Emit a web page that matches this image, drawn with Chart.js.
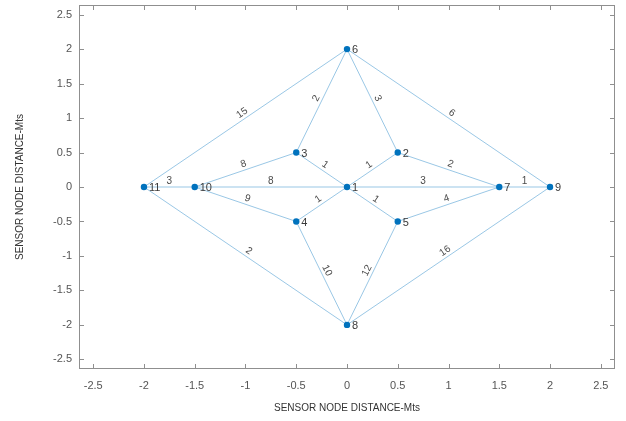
<!DOCTYPE html>
<html>
<head>
<meta charset="utf-8">
<script src="https://cdn.jsdelivr.net/npm/chart.js@4/dist/chart.umd.min.js"></script>
<style>
  html, body { margin: 0; padding: 0; background: #fff; }
  #wrap { width: 626px; height: 421px; }
</style>
</head>
<body>
<div id="wrap"><canvas id="graph" width="626" height="421"></canvas></div>
<script>
  "use strict";

  // node positions (metres) and their names
  const nodeNames = ["1", "2", "3", "4", "5", "6", "7", "8", "9", "10", "11"];
  const nodeX = [0, 0.5, -0.5, -0.5, 0.5, 0, 1.5, 0, 2, -1.5, -2];
  const nodeY = [0, 0.5, 0.5, -0.5, -0.5, 2, 0, -2, 0, 0, 0];

  // edges as 1-based node numbers, with their weights
  const edgeFrom = [11, 11, 11, 10, 10, 10, 3, 4, 3, 2, 6, 1, 1, 1, 2, 5, 7, 9, 5, 4];
  const edgeTo = [10, 6, 8, 3, 1, 4, 1, 1, 6, 6, 9, 2, 5, 7, 7, 7, 9, 8, 8, 8];
  const edgeWeights = [3, 15, 2, 8, 8, 9, 1, 1, 2, 3, 6, 1, 1, 3, 2, 4, 1, 16, 12, 10];

  const xTicks = [-2.5, -2, -1.5, -1, -0.5, 0, 0.5, 1, 1.5, 2, 2.5];
  const yTicks = [-2.5, -2, -1.5, -1, -0.5, 0, 0.5, 1, 1.5, 2, 2.5];
  const axisLimit = 2.64;

  const fontFamily = "'Liberation Sans', Arial, Helvetica, sans-serif";
  const nodeColor = "#0072BD";
  const edgeColor = "rgba(0, 114, 189, 0.4)";
  const boxColor = "#8f8f8f";

  function point(i) {
    return { x: nodeX[i - 1], y: nodeY[i - 1] };
  }

  const edgeSets = edgeFrom.map((from, k) => ({
    data: [point(from), point(edgeTo[k])],
    showLine: true,
    borderColor: edgeColor,
    borderWidth: 1,
    pointRadius: 0,
    order: 1
  }));

  const nodeSet = {
    data: nodeX.map((x, i) => ({ x: x, y: nodeY[i] })),
    backgroundColor: nodeColor,
    borderColor: nodeColor,
    borderWidth: 0,
    pointRadius: 3.2,
    order: 0
  };

  // matlab-like box with inward ticks on all sides
  const boxPlugin = {
    id: "box",
    afterDraw(chart) {
      const { ctx, chartArea: a, scales } = chart;
      ctx.save();
      ctx.strokeStyle = boxColor;
      ctx.lineWidth = 1;
      ctx.strokeRect(a.left + 0.5, a.top + 0.5, a.right - a.left - 1, a.bottom - a.top - 1);
      ctx.beginPath();
      xTicks.forEach((v) => {
        const px = Math.round(scales.x.getPixelForValue(v)) + 0.5;
        ctx.moveTo(px, a.bottom); ctx.lineTo(px, a.bottom - 5);
        ctx.moveTo(px, a.top); ctx.lineTo(px, a.top + 5);
      });
      yTicks.forEach((v) => {
        const py = Math.round(scales.y.getPixelForValue(v)) + 0.5;
        ctx.moveTo(a.left, py); ctx.lineTo(a.left + 5, py);
        ctx.moveTo(a.right, py); ctx.lineTo(a.right - 5, py);
      });
      ctx.stroke();
      ctx.restore();
    }
  };

  // weights along the edges and names beside the nodes
  const labelPlugin = {
    id: "labels",
    afterDatasetsDraw(chart) {
      const { ctx, scales } = chart;
      ctx.save();
      ctx.fillStyle = "#4a4a4a";
      ctx.font = "10px " + fontFamily;
      ctx.textAlign = "center";
      ctx.textBaseline = "bottom";
      edgeFrom.forEach((from, k) => {
        const a = point(from), b = point(edgeTo[k]);
        const x1 = scales.x.getPixelForValue(a.x), y1 = scales.y.getPixelForValue(a.y);
        const x2 = scales.x.getPixelForValue(b.x), y2 = scales.y.getPixelForValue(b.y);
        let ang = Math.atan2(y2 - y1, x2 - x1);
        if (ang > Math.PI / 2) ang -= Math.PI;
        if (ang <= -Math.PI / 2) ang += Math.PI;
        ctx.save();
        ctx.translate((x1 + x2) / 2, (y1 + y2) / 2);
        ctx.rotate(ang);
        ctx.fillText(String(edgeWeights[k]), 0, -1);
        ctx.restore();
      });

      ctx.fillStyle = "#3a3a3a";
      ctx.font = "11px " + fontFamily;
      ctx.textAlign = "left";
      ctx.textBaseline = "middle";
      nodeNames.forEach((name, i) => {
        const px = scales.x.getPixelForValue(nodeX[i]);
        const py = scales.y.getPixelForValue(nodeY[i]);
        ctx.fillText(name, px + 5, py + 1);
      });
      ctx.restore();
    }
  };

  function axis(ticks, extra) {
    return Object.assign({
      type: "linear",
      min: -axisLimit,
      max: axisLimit,
      grid: { display: false, drawTicks: false },
      border: { display: false },
      afterBuildTicks(scale) {
        scale.ticks = ticks.map((v) => ({ value: v }));
      },
      ticks: {
        color: "#555",
        font: { family: fontFamily, size: 11 },
        callback: (v) => String(v)
      }
    }, extra);
  }

  new Chart(document.getElementById("graph"), {
    type: "scatter",
    data: { datasets: [nodeSet].concat(edgeSets) },
    options: {
      responsive: false,
      animation: false,
      events: [],
      layout: { padding: { top: 5, right: 11, left: 0, bottom: 0 } },
      plugins: { legend: { display: false }, tooltip: { enabled: false } },
      scales: {
        x: axis(xTicks, {
          position: "bottom",
          afterFit(scale) {
            scale.height = 52;
            scale.paddingLeft = 0;
            scale.paddingRight = 0;
          },
          title: {
            display: true,
            text: "SENSOR NODE DISTANCE-Mts",
            color: "#333",
            font: { family: fontFamily, size: 10 },
            padding: { top: 4, bottom: 7 }
          }
        }),
        y: axis(yTicks, {
          position: "left",
          afterFit(scale) {
            scale.width = 79;
            scale.paddingTop = 0;
            scale.paddingBottom = 0;
          },
          title: {
            display: true,
            text: "SENSOR NODE DISTANCE-Mts",
            color: "#333",
            font: { family: fontFamily, size: 10 },
            padding: { top: 14, bottom: 4 }
          }
        })
      }
    },
    plugins: [boxPlugin, labelPlugin]
  });

  // tick label padding tuned to the reference
  const c = Chart.getChart("graph");
  c.options.scales.x.ticks.padding = 10;
  c.options.scales.y.ticks.padding = 7;
  c.update();
</script>
</body>
</html>
